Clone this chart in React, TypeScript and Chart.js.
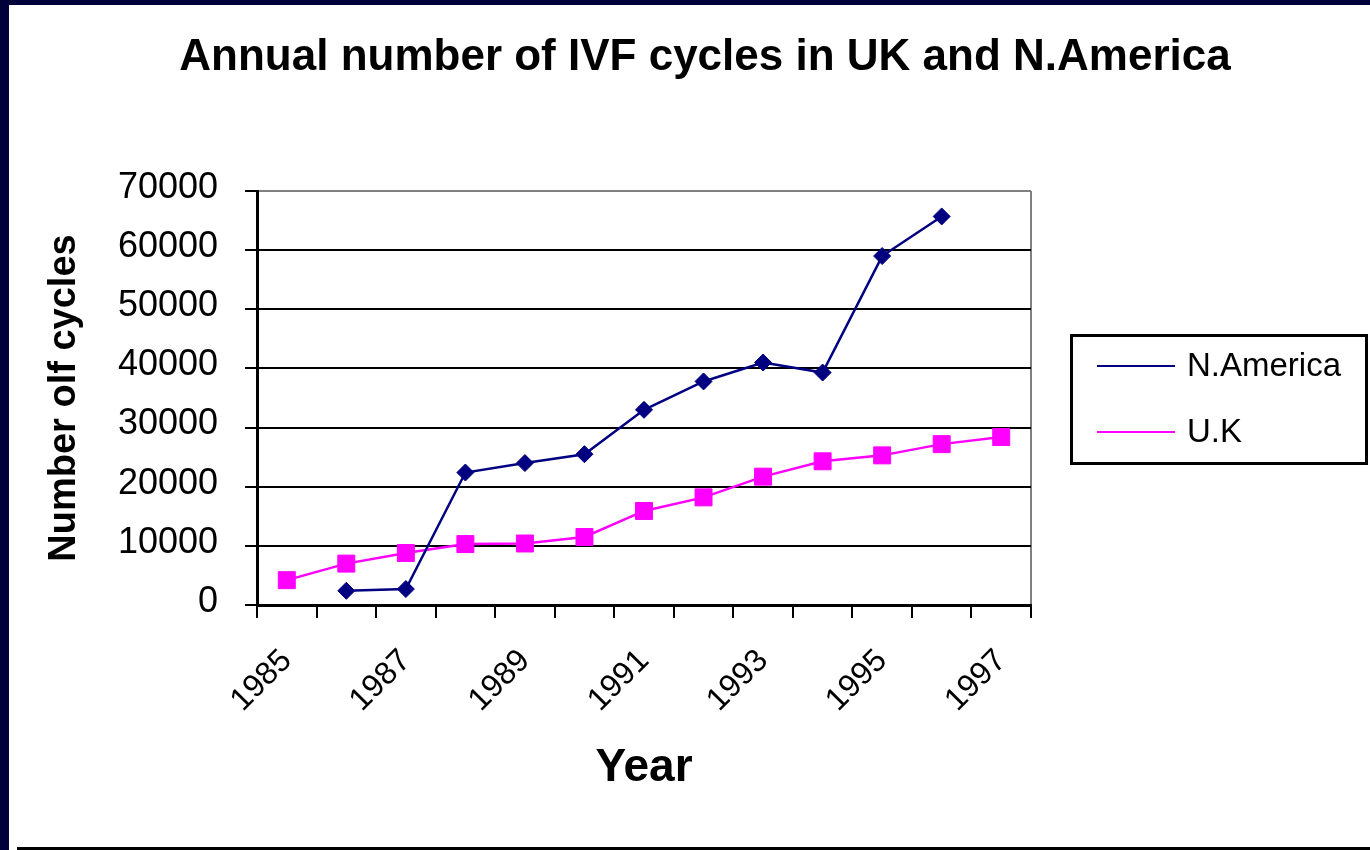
import React, { useEffect, useRef } from 'react';
import { Chart, registerables } from 'chart.js';

Chart.register(...registerables);

// ---- data ----
const years = ['1985', '1986', '1987', '1988', '1989', '1990', '1991', '1992', '1993', '1994', '1995', '1996', '1997'];
const nAmerica = [null, 2400, 2700, 22400, 24000, 25500, 33000, 37800, 41000, 39300, 59000, 65700, null];
const uk = [4200, 7000, 8800, 10300, 10400, 11500, 15900, 18200, 21700, 24300, 25300, 27200, 28400];
const seriesNames = ['N.America', 'U.K'];
const yMin = 0;
const yMax = 70000;
const yStep = 10000;
const TITLE = 'Annual number of IVF cycles in UK and N.America';
const Y_TITLE = 'Number olf cycles';
const X_TITLE = 'Year';

const FAMILY = '"Liberation Sans", Arial, sans-serif';

const decorPlugin = {
  id: 'decor',
  afterDraw(chart: any) {
    const ctx = chart.ctx as CanvasRenderingContext2D;
    ctx.save();
    // Title
    ctx.fillStyle = '#000';
    ctx.font = `bold 44px ${FAMILY}`;
    ctx.textAlign = 'center';
    ctx.textBaseline = 'alphabetic';
    ctx.fillText(TITLE, 696, 65);
    // Legend box
    ctx.lineWidth = 3;
    ctx.strokeStyle = '#000';
    ctx.strokeRect(1062.5, 330.5, 295, 128);
    const rows = [361, 427];
    chart.data.datasets.forEach((ds: any, i: number) => {
      const y = rows[i];
      ctx.strokeStyle = ds.borderColor;
      ctx.lineWidth = 2;
      ctx.beginPath();
      ctx.moveTo(1088, y);
      ctx.lineTo(1166, y);
      ctx.stroke();
      ctx.fillStyle = '#000';
      ctx.font = `33px ${FAMILY}`;
      ctx.textAlign = 'left';
      ctx.textBaseline = 'alphabetic';
      ctx.fillText(ds.label, 1178, y + 10);
    });
    ctx.restore();
  },
};

export default function App() {
  const ref = useRef<HTMLCanvasElement>(null);

  useEffect(() => {
    if (!ref.current) return;
    const chart = new Chart(ref.current, {
      type: 'line',
      data: {
        labels: years,
        datasets: [
          {
            label: seriesNames[0],
            data: nAmerica,
            borderColor: '#000080',
            backgroundColor: '#000080',
            borderWidth: 2.5,
            pointStyle: 'rectRot',
            pointRadius: 8.5,
            pointBorderWidth: 1,
            pointBackgroundColor: '#000080',
            pointBorderColor: '#000080',
            tension: 0,
            fill: false,
          },
          {
            label: seriesNames[1],
            data: uk,
            borderColor: '#FF00FF',
            backgroundColor: '#FF00FF',
            borderWidth: 2.5,
            pointStyle: 'rect',
            pointRadius: 12,
            pointBorderWidth: 1,
            pointBackgroundColor: '#FF00FF',
            pointBorderColor: '#FF00FF',
            tension: 0,
            fill: false,
          },
        ],
      },
      options: {
        responsive: false,
        animation: false,
        devicePixelRatio: 1,
        layout: { padding: { top: 186, right: 339, left: 0, bottom: 0 } },
        plugins: {
          legend: { display: false },
          title: { display: false },
          tooltip: { enabled: false },
        },
        scales: {
          x: {
            type: 'category',
            offset: true,
            grid: {
              offset: true,
              drawOnChartArea: true,
              color: (c: any) => (c.type === 'scale' ? '#808080' : 'rgba(0,0,0,0)'),
              lineWidth: 2,
              tickColor: '#000',
              tickLength: 13,
              tickWidth: 2,
            },
            border: { color: '#000', width: 3 },
            ticks: {
              autoSkip: false,
              maxRotation: 45,
              minRotation: 45,
              padding: 24,
              color: '#000',
              font: { family: FAMILY, size: 32 },
              callback: (_v: any, i: number) => (i % 2 === 0 ? years[i] : ''),
            },
            title: {
              display: true,
              text: X_TITLE,
              color: '#000',
              font: { family: FAMILY, size: 46, weight: 'bold' },
              padding: { top: 0, bottom: 51 },
            },
            afterFit: (s: any) => {
              s.height = 242;
            },
          },
          y: {
            min: yMin,
            max: yMax,
            ticks: {
              stepSize: yStep,
              padding: 27,
              color: '#000',
              font: { family: FAMILY, size: 36 },
              labelOffset: -3,
              callback: (v: any) => String(v),
            },
            grid: {
              color: (c: any) => (c.tick && c.tick.value === yMax ? '#808080' : '#000'),
              lineWidth: 2,
              tickColor: '#000',
              tickLength: 12,
              tickWidth: 2,
            },
            border: { color: '#000', width: 3 },
            title: {
              display: true,
              text: Y_TITLE,
              color: '#000',
              font: { family: FAMILY, size: 38, weight: 'bold' },
              padding: { top: 33, bottom: 0 },
            },
            afterFit: (s: any) => {
              s.width = 248;
            },
          },
        },
      } as any,
      plugins: [decorPlugin],
    });
    return () => chart.destroy();
  }, []);

  return (
    <div
      style={{
        position: 'fixed',
        left: 0,
        top: 0,
        width: 1370,
        height: 850,
        background: '#00003a',
        overflow: 'hidden',
      }}
    >
      <div style={{ position: 'absolute', left: 9, top: 5, right: 0, bottom: 0, background: '#fff' }} />
      <div style={{ position: 'absolute', left: 17, top: 847, width: 1353, height: 3, background: '#000' }} />
      <canvas
        ref={ref}
        width={1361}
        height={842}
        style={{ position: 'absolute', left: 9, top: 5, width: 1361, height: 842 }}
      />
    </div>
  );
}
